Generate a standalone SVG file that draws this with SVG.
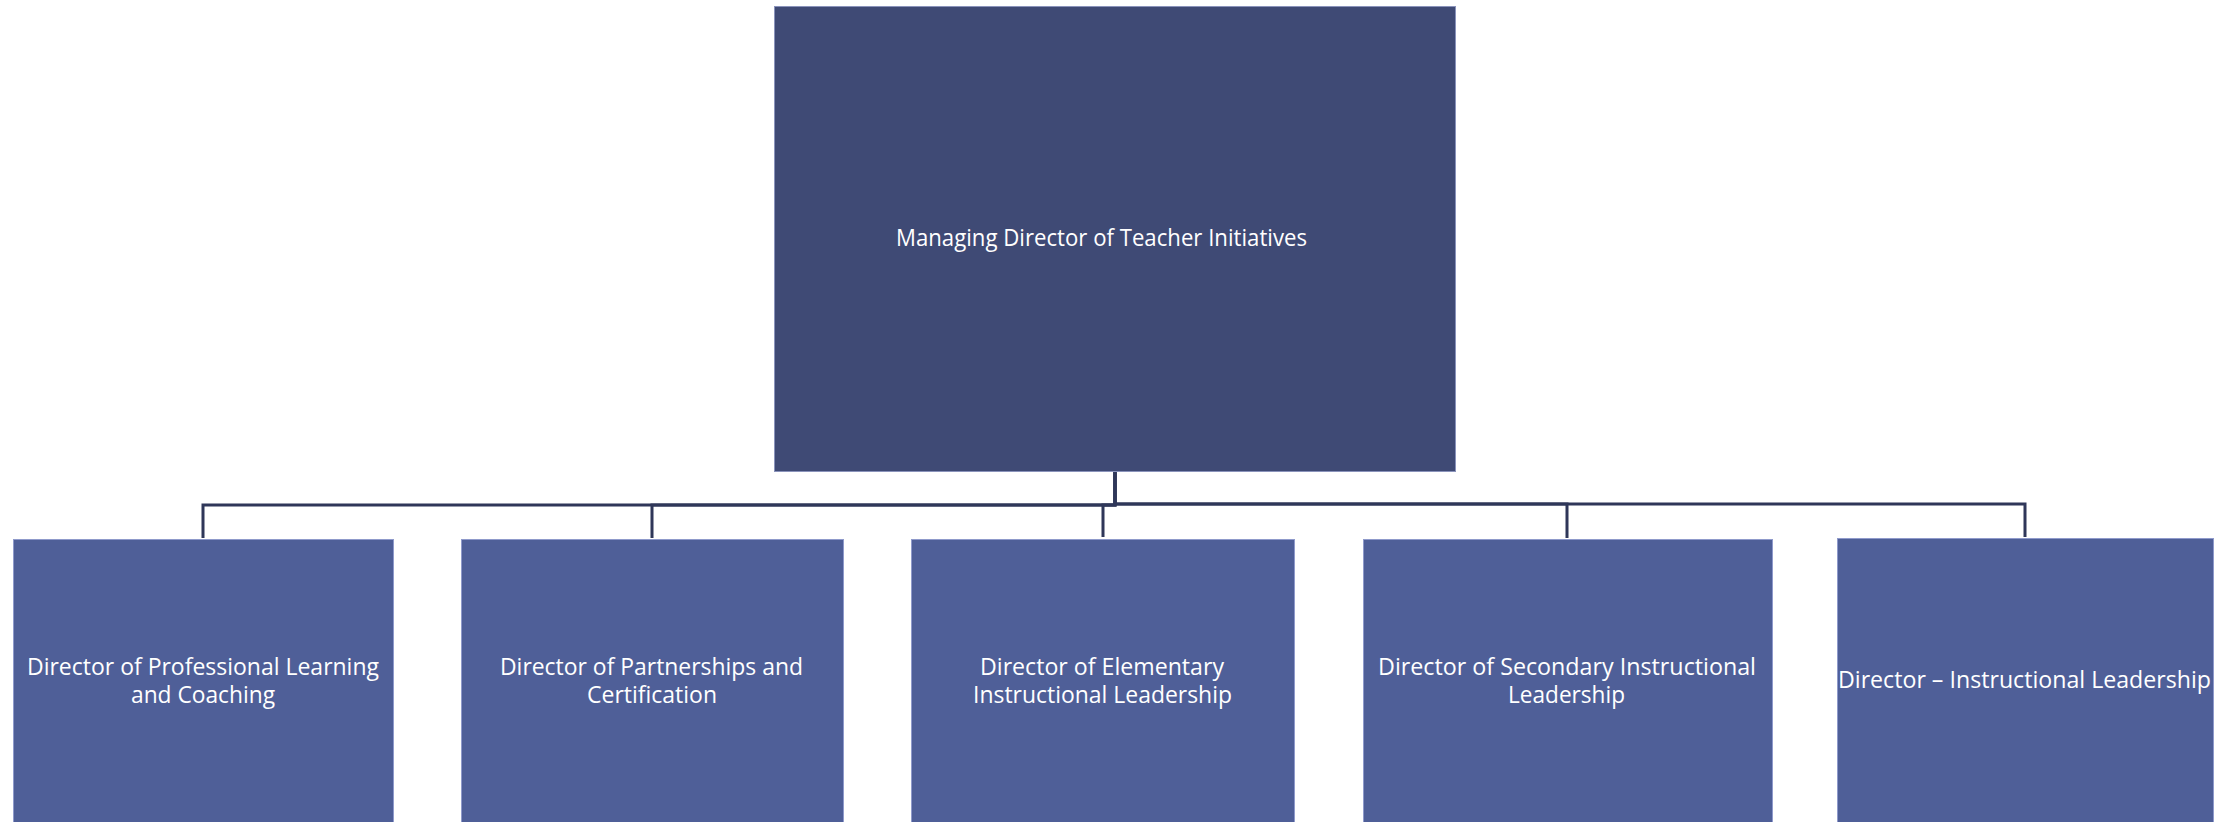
<svg xmlns="http://www.w3.org/2000/svg" width="2239" height="822" viewBox="0 0 2239 822">
<style>
.top{fill:#3f4a75;stroke:#8a93bb;stroke-width:1}
.child{fill:#4f5f98;stroke:#8f9acb;stroke-width:1}
.lbl{fill:#ffffff;font-family:"Open Sans","Noto Sans","Liberation Sans",sans-serif;font-size:23px}
.conn{fill:none;stroke:#2f3759;stroke-width:3}
</style>
<rect x="0" y="0" width="2239" height="822" fill="#ffffff"/>
<g id="connectors">
<path class="conn" d="M1115,472 V505 H203 V538"/>
<path class="conn" d="M1115,472 V505 H652 V538"/>
<path class="conn" d="M1115,472 V505 H1103 V537"/>
<path class="conn" d="M1115,472 V504 H1567 V538"/>
<path class="conn" d="M1115,472 V504 H2025 V537"/>
</g>
<g id="node-managing-director">
<rect class="top" x="774.5" y="6.5" width="681" height="465"/>
<text class="lbl" x="896" y="246" textLength="411" lengthAdjust="spacingAndGlyphs">Managing Director of Teacher Initiatives</text>
</g>
<g id="node-professional-learning">
<rect class="child" x="13.5" y="539.5" width="380" height="300"/>
<text class="lbl" x="27" y="675" textLength="352" lengthAdjust="spacingAndGlyphs">Director of Professional Learning</text>
<text class="lbl" x="131" y="703" textLength="144" lengthAdjust="spacingAndGlyphs">and Coaching</text>
</g>
<g id="node-partnerships">
<rect class="child" x="461.5" y="539.5" width="382" height="300"/>
<text class="lbl" x="500" y="675" textLength="303" lengthAdjust="spacingAndGlyphs">Director of Partnerships and</text>
<text class="lbl" x="587" y="703" textLength="130" lengthAdjust="spacingAndGlyphs">Certification</text>
</g>
<g id="node-elementary">
<rect class="child" x="911.5" y="539.5" width="383" height="300"/>
<text class="lbl" x="980" y="675" textLength="244" lengthAdjust="spacingAndGlyphs">Director of Elementary</text>
<text class="lbl" x="973" y="703" textLength="259" lengthAdjust="spacingAndGlyphs">Instructional Leadership</text>
</g>
<g id="node-secondary">
<rect class="child" x="1363.5" y="539.5" width="409" height="300"/>
<text class="lbl" x="1378" y="675" textLength="378" lengthAdjust="spacingAndGlyphs">Director of Secondary Instructional</text>
<text class="lbl" x="1508" y="703" textLength="117" lengthAdjust="spacingAndGlyphs">Leadership</text>
</g>
<g id="node-instructional-leadership">
<rect class="child" x="1837.5" y="538.5" width="376" height="300"/>
<text class="lbl" x="1838" y="688" textLength="373" lengthAdjust="spacingAndGlyphs">Director – Instructional Leadership</text>
</g>
</svg>
